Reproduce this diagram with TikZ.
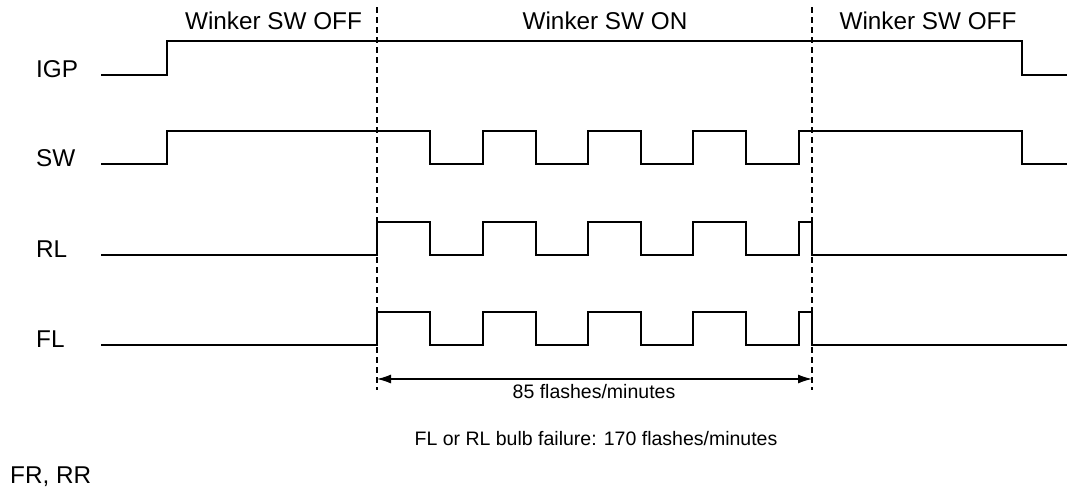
\documentclass[tikz,border=0pt]{standalone}
\usepackage{fontspec}
\setmainfont{Liberation Sans}
\usetikzlibrary{arrows.meta}
\begin{document}
\begin{tikzpicture}[x=1pt,y=-1pt,
  wave/.style={line width=1.5pt, line join=miter},
  guide/.style={line width=1.2pt, dash pattern=on 6pt off 4pt},
  big/.style={font=\fontsize{24.3}{29}\selectfont, inner sep=0pt},
  small/.style={font=\fontsize{19.5}{23}\selectfont, inner sep=0pt},
  dimline/.style={line width=1.2pt, {Latex[length=14pt,width=9pt]}-{Latex[length=14pt,width=9pt]}}]
\useasboundingbox (0,0) rectangle (1067,491);

% headers
\node[big, anchor=base] (h1) at (273.5,29) {Winker SW OFF};
\node[big, anchor=base] (h2) at (605,29) {Winker SW ON};
\node[big, anchor=base] (h3) at (928,29) {Winker SW OFF};

% signal labels
\node[big, anchor=base west] (lIGP) at (36,77) {IGP};
\node[big, anchor=base west] (lSW) at (36,166) {SW};
\node[big, anchor=base west] (lRL) at (36,257) {RL};
\node[big, anchor=base west] (lFL) at (36,347) {FL};
\node[big, anchor=base west] (lFR) at (10,483) {FR, RR};

% guide lines
\coordinate (d1t) at (377,7);
\coordinate (d1b) at (377,390);
\coordinate (d2t) at (812,7);
\coordinate (d2b) at (812,390);
\draw[guide] (d1t) -- (d1b);
\draw[guide] (d2t) -- (d2b);

% IGP
\draw[wave] (101,75) -- (167,75) -- (167,41) -- (1022,41) -- (1022,75) -- (1067,75);

% SW
\draw[wave] (101,164) -- (167,164) -- (167,131) -- (430,131) -- (430,164)
  -- (483,164) -- (483,131) -- (536,131) -- (536,164)
  -- (588,164) -- (588,131) -- (641,131) -- (641,164)
  -- (693,164) -- (693,131) -- (746,131) -- (746,164)
  -- (799,164) -- (799,131) -- (1022,131) -- (1022,164) -- (1067,164);

% RL
\draw[wave] (101,255) -- (377,255) -- (377,222) -- (430,222) -- (430,255)
  -- (483,255) -- (483,222) -- (536,222) -- (536,255)
  -- (588,255) -- (588,222) -- (641,222) -- (641,255)
  -- (693,255) -- (693,222) -- (746,222) -- (746,255)
  -- (799,255) -- (799,222) -- (812,222) -- (812,255) -- (1067,255);

% FL
\draw[wave] (101,345) -- (377,345) -- (377,312) -- (430,312) -- (430,345)
  -- (483,345) -- (483,312) -- (536,312) -- (536,345)
  -- (588,345) -- (588,312) -- (641,312) -- (641,345)
  -- (693,345) -- (693,312) -- (746,312) -- (746,345)
  -- (799,345) -- (799,312) -- (812,312) -- (812,345) -- (1067,345);

% dimension
\coordinate (a1) at (377,379);
\coordinate (a2) at (812,379);
\draw[dimline] (a1) -- (a2);
\node[small, anchor=base] (t85) at (594,398) {85 flashes/minutes};
\node[small, anchor=base] (tfail) at (596,445) {FL or RL bulb failure: 170 flashes/minutes};
\end{tikzpicture}
\end{document}
